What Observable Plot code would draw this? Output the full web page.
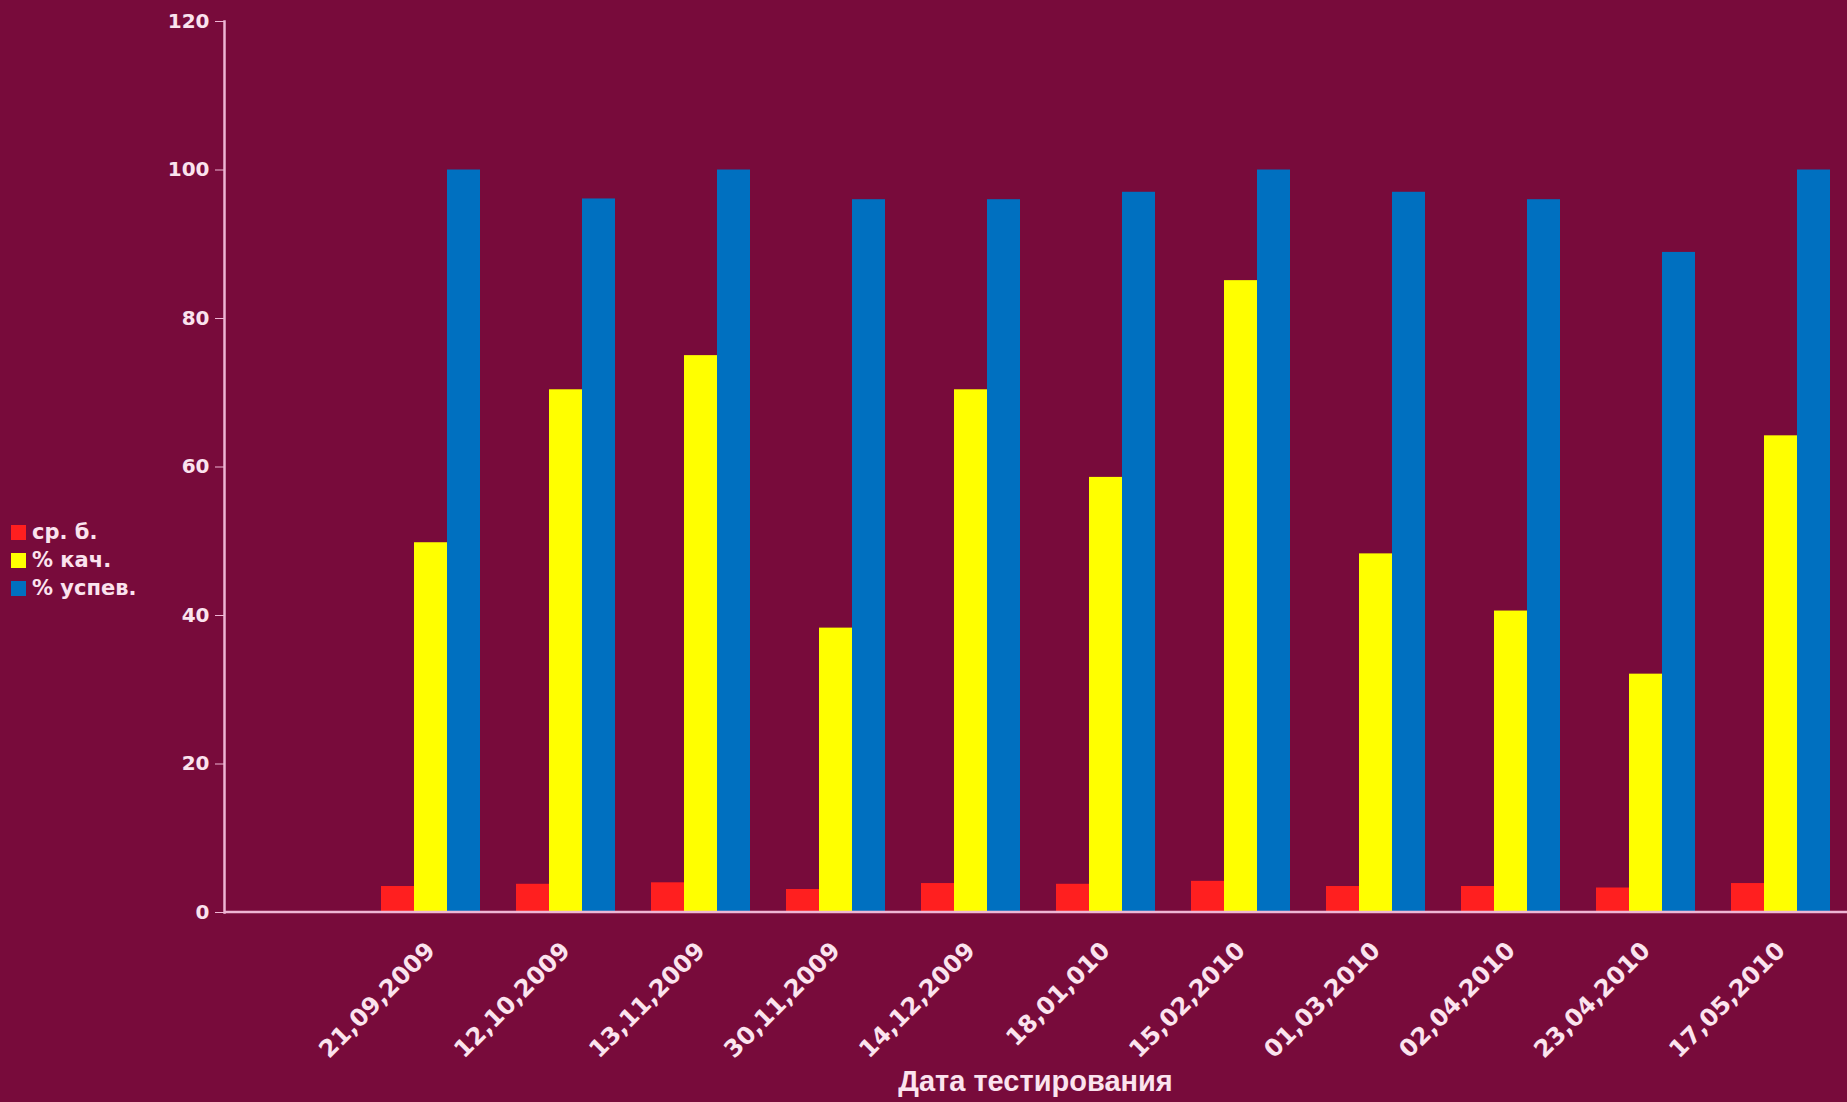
<!DOCTYPE html>
<html><head><meta charset="utf-8">
<script src="https://cdn.jsdelivr.net/npm/d3@7"></script>
<script src="https://cdn.jsdelivr.net/npm/@observablehq/plot@0.6"></script>
<style>
html,body{margin:0;padding:0;background:#780b3b;overflow:hidden}
#wrap{position:relative;width:1847px;height:1102px}
#chart,#yaxis{position:absolute;left:0;top:0}
#legend{position:absolute;left:11px;top:518px;font:bold 21px "DejaVu Sans",sans-serif;color:#fbe3ee}
.item{display:flex;align-items:center;height:28px}
.sw{width:15px;height:15px;margin-right:6px}
#xtitle{position:absolute;left:224px;width:1623px;top:1065px;text-align:center;font:bold 29px "Liberation Sans",Arial,sans-serif;color:#fbe3ee}
</style></head><body><div id="wrap"><div id="chart"></div><div id="yaxis"></div><div id="legend"></div><div id="xtitle"></div></div>
<script>
const dates = ["21,09,2009","12,10,2009","13,11,2009","30,11,2009","14,12,2009","18,01,010","15,02,2010","01,03,2010","02,04,2010","23,04,2010","17,05,2010"];
const series = ["ср. б.","% кач.","% успев."];
const avgScore = [3.5,3.8,4.0,3.1,3.9,3.8,4.2,3.5,3.5,3.3,3.9];
const quality = [49.8,70.4,75.0,38.3,70.4,58.6,85.1,48.3,40.6,32.1,64.2];
const success = [100,96.1,100,96,96,97,100,97,96,88.9,100];
const yTicks = [0,20,40,60,80,100,120];
const colors = ["#ff1f1f","#ffff00","#0070c0"];
const axisTitle = "Дата тестирования";

const valuesBySeries = [avgScore, quality, success];
const rows = [];
dates.forEach((d, i) => series.forEach((s, j) => rows.push({date: d, series: s, value: valuesBySeries[j][i]})));

const textColor = "#fbe3ee";
const lineColor = "#eeb6d4";
const W = 1847, H = 1102, ML = 224, MT = 21, MB = 190;

const plot = Plot.plot({
  width: W, height: H,
  marginLeft: ML, marginRight: 0, marginTop: MT, marginBottom: MB,
  style: {background: "transparent", color: textColor, fontFamily: "'DejaVu Sans', sans-serif", fontWeight: "bold"},
  fx: {domain: [" ", ...dates], paddingInner: 0.253, paddingOuter: 0.128, align: 0.578},
  x: {domain: series, axis: null, padding: 0},
  y: {domain: [0, 120], axis: null},
  color: {domain: series, range: colors},
  marks: [
    Plot.barY(rows, {fx: "date", x: "series", y: "value", fill: "series"}),
    Plot.axisFx({anchor: "bottom", tickRotate: -45, tickSize: 0, tickPadding: 34, fontSize: 24, label: null})
  ]
});
document.getElementById("chart").appendChild(plot);

// bottom axis line drawn from the library's scales
const ys = plot.scale("y"), fxs = plot.scale("fx");
const y0 = ys.apply(0);
d3.select(plot).append("line").attr("x1", fxs.range[0]).attr("x2", fxs.range[1]).attr("y1", y0).attr("y2", y0)
  .attr("stroke", lineColor).attr("stroke-width", 2.5);

// y axis (separate unfaceted plot sharing the same vertical layout)
const yplot = Plot.plot({
  width: ML + 4, height: H,
  marginLeft: ML, marginRight: 4, marginTop: MT, marginBottom: MB,
  style: {background: "transparent", color: textColor, fontFamily: "'DejaVu Sans', sans-serif", fontWeight: "bold"},
  y: {domain: [0, 120]},
  marks: [
    Plot.axisY({ticks: yTicks, tickSize: 9, tickPadding: 6, fontSize: 20, label: null, stroke: lineColor}),
    Plot.frame({anchor: "left", stroke: lineColor, strokeWidth: 2.5})
  ]
});
document.getElementById("yaxis").appendChild(yplot);

const legend = d3.select("#legend");
series.forEach((s, j) => {
  const it = legend.append("div").attr("class", "item");
  it.append("div").attr("class", "sw").style("background", colors[j]);
  it.append("span").text(s);
});
d3.select("#xtitle").text(axisTitle);
</script>
</body></html>
